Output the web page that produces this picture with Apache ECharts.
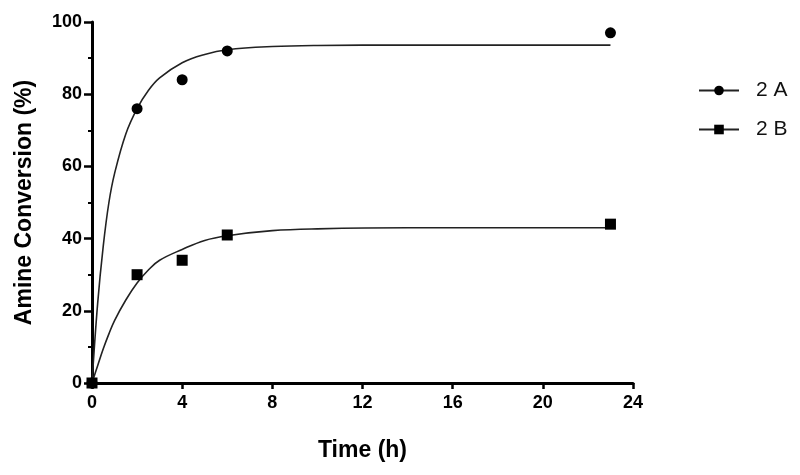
<!DOCTYPE html>
<html>
<head>
<meta charset="utf-8">
<script src="https://cdn.jsdelivr.net/npm/echarts@6/dist/echarts.min.js"></script>
<style>
  html, body { margin: 0; padding: 0; background: #fff; }
  #chart { width: 800px; height: 475px; }
</style>
</head>
<body>
<div id="chart"></div>
<script>
// measured points
const timeA = [0, 2, 4, 6, 23];
const valuesA = [0, 76, 84, 92, 97];
const timeB = [0, 2, 4, 6, 23];
const valuesB = [0, 30, 34, 41, 44];

// fitted curves
const fitTime = [0, 0.25, 0.5, 0.75, 1, 1.5, 2, 2.5, 3, 4, 5, 6, 8, 10, 14, 23];
const fitA = [0, 22, 38, 50, 58, 69, 76, 81, 84.5, 88.7, 91, 92.3, 93.2, 93.5, 93.6, 93.6];
const fitB = [0, 4.8, 9.5, 13.6, 17.3, 23, 27.7, 31.3, 34, 37, 39.5, 40.8, 42.2, 42.7, 43, 43];

const xTicks = [0, 4, 8, 12, 16, 20, 24];
const yTicks = [0, 20, 40, 60, 80, 100];

const pairs = (xs, ys) => xs.map((x, i) => [x, ys[i]]);

const chart = echarts.init(document.getElementById("chart"));

const labelFont = {
  color: "#000",
  fontFamily: "Liberation Sans, Arial, sans-serif",
  fontWeight: "bold",
  fontSize: 18,
};

const option = {
  animation: false,
  grid: { left: 92, right: 167, top: 22, bottom: 92 },
  legend: {
    orient: "vertical",
    left: 693,
    top: 75,
    itemWidth: 40,
    itemHeight: 12,
    itemGap: 18,
    data: ["2 A", "2 B"],
    textStyle: {
      color: "#111",
      fontFamily: "Liberation Sans, Arial, sans-serif",
      fontSize: 21,
      padding: [0, 0, 0, 12],
    },
  },
  xAxis: {
    type: "value",
    min: 0,
    max: 24,
    interval: 4,
    name: "Time (h)",
    nameLocation: "middle",
    nameGap: 56,
    nameTextStyle: { ...labelFont, fontSize: 23 },
    axisLine: { lineStyle: { color: "#000", width: 3 } },
    axisTick: { length: 6, lineStyle: { color: "#000", width: 2.5 } },
    axisLabel: {
      ...labelFont,
      margin: 11,
      formatter: (v) => (xTicks.includes(v) ? String(v) : ""),
    },
    splitLine: { show: false },
  },
  yAxis: {
    type: "value",
    min: 0,
    max: 100,
    interval: 20,
    name: "Amine Conversion (%)",
    nameLocation: "middle",
    nameGap: 56,
    nameTextStyle: { ...labelFont, fontSize: 23 },
    axisLine: { show: true, lineStyle: { color: "#000", width: 3 } },
    axisTick: { length: 8, lineStyle: { color: "#000", width: 2.5 } },
    minorTick: {
      show: true,
      splitNumber: 2,
      length: 4,
      lineStyle: { color: "#000", width: 2 },
    },
    axisLabel: {
      ...labelFont,
      margin: 10,
      formatter: (v) => (yTicks.includes(v) ? String(v) : ""),
    },
    splitLine: { show: false },
  },
  series: [
    {
      name: "2 A",
      type: "line",
      data: pairs(fitTime, fitA),
      smooth: 0.4,
      symbol: "circle",
      showSymbol: false,
      lineStyle: { color: "#222", width: 1.6 },
      itemStyle: { color: "#000" },
      z: 2,
    },
    {
      name: "2 B",
      type: "line",
      data: pairs(fitTime, fitB),
      smooth: 0.4,
      symbol: "rect",
      showSymbol: false,
      lineStyle: { color: "#222", width: 1.6 },
      itemStyle: { color: "#000" },
      z: 2,
    },
    {
      name: "2 A",
      type: "scatter",
      data: pairs(timeA, valuesA),
      symbol: "circle",
      symbolSize: 11,
      itemStyle: { color: "#000", opacity: 1 },
      z: 3,
    },
    {
      name: "2 B",
      type: "scatter",
      data: pairs(timeB, valuesB),
      symbol: "rect",
      symbolSize: 11,
      itemStyle: { color: "#000", opacity: 1 },
      z: 4,
    },
  ],
};

chart.setOption(option);
</script>
</body>
</html>
